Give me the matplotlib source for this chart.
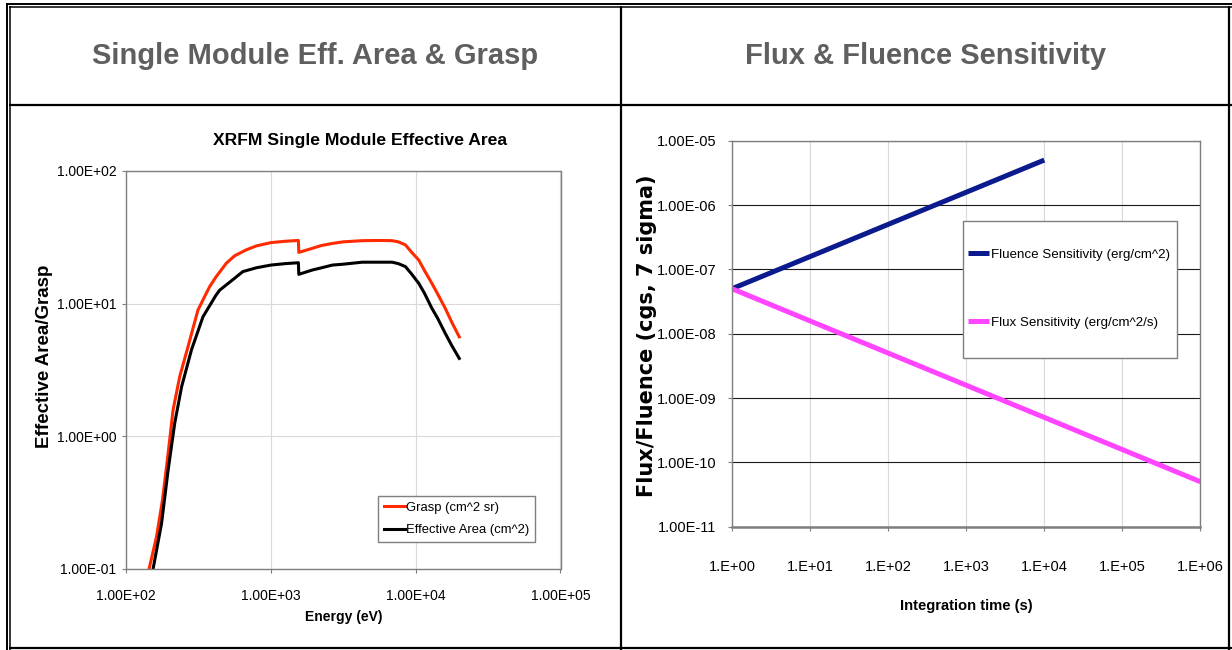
import matplotlib
matplotlib.use("Agg")
import matplotlib.pyplot as plt
from matplotlib.lines import Line2D
from matplotlib.patches import Rectangle
from matplotlib.ticker import NullLocator

# ----------------------------------------------------------------------------
# data
# ----------------------------------------------------------------------------
grasp_energy = [144.5, 162.5, 178.6, 195.4, 211.3, 235, 268, 314, 355, 378, 417,
                492, 562, 676, 794, 1000, 1259, 1550, 1560, 1936, 2239, 2661,
                3162, 4276, 5623, 6871, 7586, 8492, 9333, 10500, 11480, 12940,
                14125, 16000, 17780, 20000]
grasp_value = [0.100, 0.174, 0.329, 0.741, 1.57, 2.81, 4.72, 8.93, 11.7, 13.4,
               15.8, 20.1, 22.9, 25.4, 27.2, 28.8, 29.5, 29.9, 24.3, 26.1, 27.4,
               28.4, 29.2, 29.8, 29.9, 29.8, 29.2, 27.7, 24.5, 21.3, 17.8, 14.2,
               11.9, 9.2, 7.2, 5.6]
area_energy = [154, 176, 195.4, 217, 242, 283, 340, 417, 443, 562, 640, 794,
               1000, 1259, 1550, 1560, 1936, 2239, 2661, 3162, 4276, 5623, 6871,
               7586, 8492, 9333, 10500, 11480, 12940, 14125, 16000, 17780, 20000]
area_value = [0.100, 0.219, 0.553, 1.25, 2.35, 4.46, 7.94, 11.5, 12.6, 15.5,
              17.4, 18.6, 19.5, 20.0, 20.3, 16.6, 17.9, 18.6, 19.5, 19.8, 20.5,
              20.5, 20.5, 20.0, 19.0, 16.8, 14.2, 12.0, 9.2, 7.8, 5.96, 4.8, 3.85]

energy_ticks = [1e2, 1e3, 1e4, 1e5]
energy_labels = ['1.00E+02', '1.00E+03', '1.00E+04', '1.00E+05']
area_ticks = [1e-1, 1e0, 1e1, 1e2]
area_labels = ['1.00E-01', '1.00E+00', '1.00E+01', '1.00E+02']

fluence_time = [1, 10, 100, 1000, 10000]
fluence_value = [5e-8, 1.58e-7, 5e-7, 1.58e-6, 5e-6]
flux_time = [1, 10, 100, 1000, 10000, 100000, 1000000]
flux_value = [5e-8, 1.58e-8, 5e-9, 1.58e-9, 5e-10, 1.58e-10, 5e-11]

time_ticks = [1e0, 1e1, 1e2, 1e3, 1e4, 1e5, 1e6]
time_labels = ['1.E+00', '1.E+01', '1.E+02', '1.E+03', '1.E+04', '1.E+05', '1.E+06']
sens_ticks = [1e-11, 1e-10, 1e-9, 1e-8, 1e-7, 1e-6, 1e-5]
sens_labels = ['1.00E-11', '1.00E-10', '1.00E-09', '1.00E-08', '1.00E-07',
               '1.00E-06', '1.00E-05']

W, H = 1232, 650
SANS = ['Liberation Sans', 'DejaVu Sans']
plt.rcParams['font.family'] = SANS

fig = plt.figure(figsize=(W / 100, H / 100), dpi=100)

# background axes in pixel coordinates for the table frame and titles
bg = fig.add_axes([0, 0, 1, 1])
bg.set_xlim(0, W)
bg.set_ylim(H, 0)
bg.axis('off')

def hline(y, x0, x1, lw):
    bg.add_line(Line2D([x0, x1], [y, y], color='black', lw=lw, solid_capstyle='butt'))

def vline(x, y0, y1, lw):
    bg.add_line(Line2D([x, x], [y0, y1], color='black', lw=lw, solid_capstyle='butt'))

# double border on the top and left, single elsewhere
hline(3.8, 6, W, 1.4)
hline(6.8, 9, W, 1.1)
vline(7, 3, H, 1.4)
vline(10, 6, H, 1.1)
vline(1229, 6, H, 1.6)
hline(647.5, 9, W, 1.6)
vline(621, 6, H, 1.6)
hline(105, 9, W, 1.6)

bg.text(315, 56, 'Single Module Eff. Area & Grasp', fontsize=21,
        fontweight='bold', color='#5f5f5f', ha='center', va='center')
bg.text(926, 56, 'Flux & Fluence Sensitivity', fontsize=21,
        fontweight='bold', color='#5f5f5f', ha='center', va='center')

# ----------------------------------------------------------------------------
# left chart: effective area and grasp
# ----------------------------------------------------------------------------
ax1 = fig.add_axes([126 / W, 1 - 568.5 / H, 434.5 / W, 397.5 / H])
ax1.set_xscale('log')
ax1.set_yscale('log')
ax1.plot(grasp_energy, grasp_value, color='#ff2a00', lw=2.2, label='Grasp (cm^2 sr)')
ax1.plot(area_energy, area_value, color='black', lw=2.2, label='Effective Area (cm^2)')
ax1.set_xlim(1e2, 1e5)
ax1.set_ylim(1e-1, 1e2)
ax1.set_xticks(energy_ticks, labels=energy_labels)
ax1.set_yticks(area_ticks, labels=area_labels)
ax1.xaxis.set_minor_locator(NullLocator())
ax1.yaxis.set_minor_locator(NullLocator())
ax1.grid(True, color='#d9d9d9', lw=0.8)
ax1.set_axisbelow(True)
for s in ax1.spines.values():
    s.set_color('#7f7f7f')
    s.set_linewidth(1.0)
ax1.tick_params(axis='both', direction='out', length=3, width=0.8, color='#7f7f7f',
                labelsize=10)
ax1.tick_params(axis='x', pad=12)
ax1.tick_params(axis='y', pad=4)
leg1 = ax1.legend(loc='upper left', bbox_to_anchor=(0.581, 0.183), borderaxespad=0,
                  fontsize=9.4, frameon=True, fancybox=False, edgecolor='#7f7f7f',
                  framealpha=1, handlelength=1.55, handletextpad=0.1,
                  labelspacing=0.8, borderpad=0.45)
leg1.get_frame().set_linewidth(1.0)

bg.text(360, 140, 'XRFM Single Module Effective Area', fontsize=12.6,
        fontweight='bold', ha='center', va='center')
bg.text(343.5, 617, 'Energy (eV)', fontsize=10, fontweight='bold',
        ha='center', va='center')
bg.text(45, 356, 'Effective Area/Grasp', fontsize=13.5, fontweight='bold',
        ha='center', va='center', rotation=90)

# ----------------------------------------------------------------------------
# right chart: flux and fluence sensitivity
# ----------------------------------------------------------------------------
ax2 = fig.add_axes([732 / W, 1 - 526.7 / H, 468.4 / W, 386 / H])
ax2.set_xscale('log')
ax2.set_yscale('log')
ax2.plot(fluence_time, fluence_value, color='#0b1a8c', lw=3.6,
         solid_capstyle='butt', label='Fluence Sensitivity (erg/cm^2)')
ax2.plot(flux_time, flux_value, color='#ff45ff', lw=3.6,
         solid_capstyle='butt', label='Flux Sensitivity (erg/cm^2/s)')
ax2.set_xlim(1e0, 1e6)
ax2.set_ylim(1e-11, 1e-5)
ax2.set_xticks(time_ticks, labels=time_labels)
ax2.set_yticks(sens_ticks, labels=sens_labels)
ax2.xaxis.set_minor_locator(NullLocator())
ax2.yaxis.set_minor_locator(NullLocator())
ax2.grid(True, axis='x', color='#d9d9d9', lw=0.8)
ax2.grid(True, axis='y', color='#1a1a1a', lw=0.8)
ax2.set_axisbelow(True)
for s in ax2.spines.values():
    s.set_color('#7f7f7f')
    s.set_linewidth(1.0)
ax2.spines['bottom'].set_linewidth(1.8)
ax2.tick_params(axis='both', direction='out', length=3, width=0.8, color='#7f7f7f',
                labelsize=10.5)
ax2.tick_params(axis='x', pad=21)
ax2.tick_params(axis='y', pad=8)

# legend box drawn separately so it can be taller than its entries
ax2.add_patch(Rectangle((0.4925, 0.4378), 0.457, 0.3549, transform=ax2.transAxes,
                        facecolor='white', edgecolor='#7f7f7f', lw=1.0, zorder=3))
ax2.legend(loc='center left', bbox_to_anchor=(0.504, 0.6163), borderaxespad=0,
           fontsize=9.6, frameon=False, handlelength=1.6, handletextpad=0.1,
           labelspacing=4.2, borderpad=0).set_zorder(4)

bg.text(966, 606, 'Integration time (s)', fontsize=10.6, fontweight='bold',
        ha='center', va='center')
bg.text(647, 336, 'Flux/Fluence (cgs, 7 sigma)', family=['DejaVu Sans'], fontsize=15,
        fontweight='bold', ha='center', va='center', rotation=90)

fig.savefig('out.png', dpi=100, facecolor='white')
